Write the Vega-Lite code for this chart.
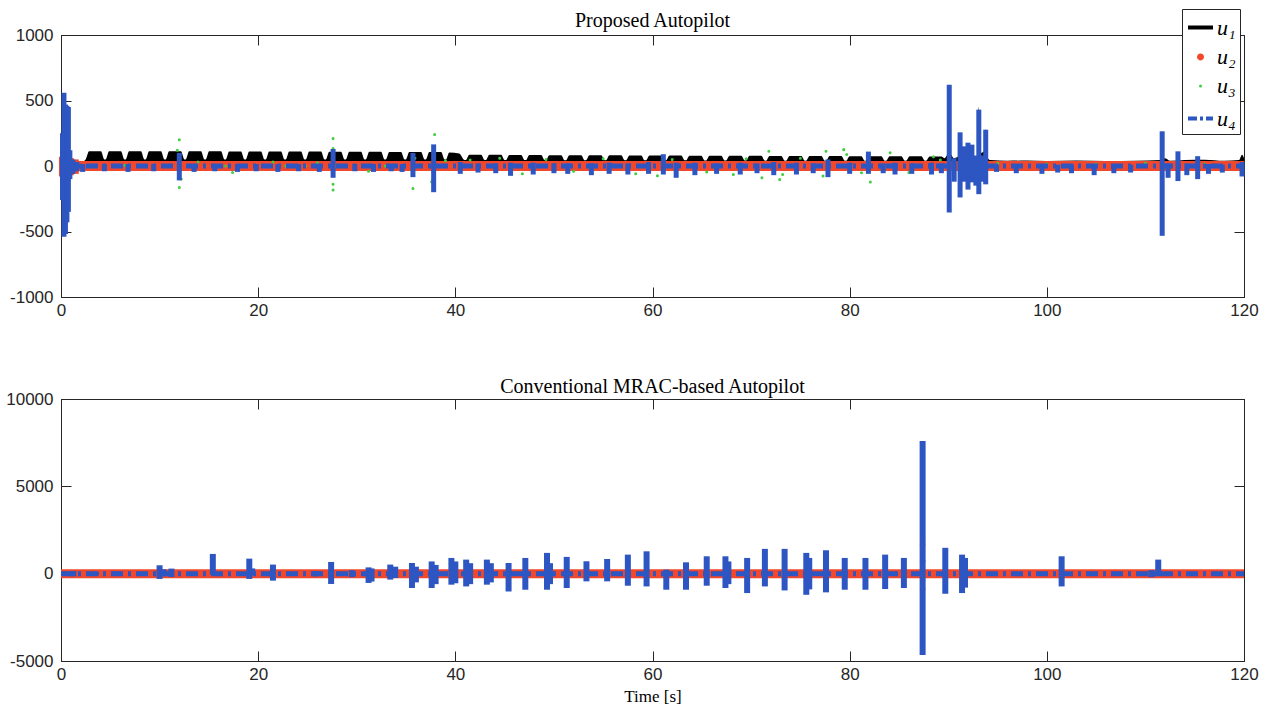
{
"$schema": "https://vega.github.io/schema/vega-lite/v6.json",
"background": "white",
"padding": {"left": 5, "top": 8, "right": 20, "bottom": 4},
"spacing": 57,
"config": {
  "view": {"stroke": "#262626", "strokeWidth": 1},
  "axis": {"grid": false, "domainColor": "#262626", "tickColor": "#262626", "tickSize": -10, "labelPadding": 17, "labelFlush": false, "labelFont": "Liberation Sans", "labelFontSize": 17, "labelColor": "#262626", "titleFont": "Liberation Serif", "titleFontSize": 17, "titleFontWeight": "normal", "titleColor": "#000000"},
  "title": {"font": "Liberation Serif", "fontSize": 20, "fontWeight": "normal", "color": "#000000", "frame": "group"}
},
"datasets": {
  "base": [{"t": 0, "v": 0}, {"t": 120, "v": 0}],
  "u1top": [
    {"t": 0, "hi": 30}, {"t": 0.05, "hi": 200}, {"t": 0.3, "hi": 180}, {"t": 0.6, "hi": 120}, {"t": 1.0, "hi": 60}, {"t": 1.5, "hi": 30}, {"t": 2.2, "hi": 35},
    {"t": 2.5, "hi": 50}, {"t": 2.85, "hi": 112}, {"t": 4.05, "hi": 112}, {"t": 4.4, "hi": 50},
    {"t": 4.53, "hi": 50}, {"t": 4.88, "hi": 112}, {"t": 6.08, "hi": 112}, {"t": 6.43, "hi": 50},
    {"t": 6.56, "hi": 50}, {"t": 6.91, "hi": 112}, {"t": 8.11, "hi": 112}, {"t": 8.46, "hi": 50},
    {"t": 8.59, "hi": 50}, {"t": 8.94, "hi": 112}, {"t": 10.14, "hi": 112}, {"t": 10.49, "hi": 50},
    {"t": 10.62, "hi": 50}, {"t": 10.97, "hi": 112}, {"t": 12.17, "hi": 112}, {"t": 12.52, "hi": 50},
    {"t": 12.65, "hi": 50}, {"t": 13.0, "hi": 112}, {"t": 14.2, "hi": 112}, {"t": 14.55, "hi": 50},
    {"t": 14.68, "hi": 50}, {"t": 15.03, "hi": 112}, {"t": 16.23, "hi": 112}, {"t": 16.58, "hi": 50},
    {"t": 16.71, "hi": 50}, {"t": 17.06, "hi": 110}, {"t": 18.26, "hi": 110}, {"t": 18.61, "hi": 50},
    {"t": 18.74, "hi": 50}, {"t": 19.09, "hi": 110}, {"t": 20.29, "hi": 110}, {"t": 20.64, "hi": 50},
    {"t": 20.77, "hi": 50}, {"t": 21.12, "hi": 110}, {"t": 22.32, "hi": 110}, {"t": 22.67, "hi": 50},
    {"t": 22.8, "hi": 50}, {"t": 23.15, "hi": 110}, {"t": 24.35, "hi": 110}, {"t": 24.7, "hi": 50},
    {"t": 24.83, "hi": 50}, {"t": 25.18, "hi": 110}, {"t": 26.38, "hi": 110}, {"t": 26.73, "hi": 50},
    {"t": 26.86, "hi": 50}, {"t": 27.21, "hi": 108}, {"t": 28.41, "hi": 108}, {"t": 28.76, "hi": 50},
    {"t": 28.89, "hi": 50}, {"t": 29.24, "hi": 108}, {"t": 30.44, "hi": 108}, {"t": 30.79, "hi": 50},
    {"t": 30.92, "hi": 50}, {"t": 31.27, "hi": 108}, {"t": 32.47, "hi": 108}, {"t": 32.82, "hi": 50},
    {"t": 32.95, "hi": 50}, {"t": 33.3, "hi": 106}, {"t": 34.5, "hi": 106}, {"t": 34.85, "hi": 50},
    {"t": 34.98, "hi": 50}, {"t": 35.33, "hi": 106}, {"t": 36.53, "hi": 106}, {"t": 36.88, "hi": 50},
    {"t": 37.01, "hi": 50}, {"t": 37.36, "hi": 106}, {"t": 38.56, "hi": 106}, {"t": 38.91, "hi": 50},
    {"t": 39.04, "hi": 50}, {"t": 39.39, "hi": 104}, {"t": 40.4, "hi": 95}, {"t": 40.94, "hi": 45},
    {"t": 41.07, "hi": 45}, {"t": 41.42, "hi": 85}, {"t": 42.62, "hi": 85}, {"t": 42.97, "hi": 45},
    {"t": 43.1, "hi": 45}, {"t": 43.45, "hi": 85}, {"t": 44.65, "hi": 85}, {"t": 45.0, "hi": 45},
    {"t": 45.13, "hi": 45}, {"t": 45.48, "hi": 84}, {"t": 46.68, "hi": 84}, {"t": 47.03, "hi": 45},
    {"t": 47.16, "hi": 45}, {"t": 47.51, "hi": 84}, {"t": 48.71, "hi": 84}, {"t": 49.06, "hi": 45},
    {"t": 49.19, "hi": 45}, {"t": 49.54, "hi": 83}, {"t": 50.74, "hi": 83}, {"t": 51.09, "hi": 44},
    {"t": 51.22, "hi": 44}, {"t": 51.57, "hi": 83}, {"t": 52.77, "hi": 83}, {"t": 53.12, "hi": 44},
    {"t": 53.25, "hi": 44}, {"t": 53.6, "hi": 82}, {"t": 54.8, "hi": 82}, {"t": 55.15, "hi": 44},
    {"t": 55.28, "hi": 44}, {"t": 55.63, "hi": 82}, {"t": 56.83, "hi": 82}, {"t": 57.18, "hi": 44},
    {"t": 57.31, "hi": 44}, {"t": 57.66, "hi": 81}, {"t": 58.86, "hi": 81}, {"t": 59.21, "hi": 43},
    {"t": 59.34, "hi": 43}, {"t": 59.69, "hi": 80}, {"t": 60.89, "hi": 80}, {"t": 61.24, "hi": 43},
    {"t": 61.37, "hi": 43}, {"t": 61.72, "hi": 80}, {"t": 62.92, "hi": 80}, {"t": 63.27, "hi": 43},
    {"t": 63.4, "hi": 43}, {"t": 63.75, "hi": 79}, {"t": 64.95, "hi": 79}, {"t": 65.3, "hi": 42},
    {"t": 65.43, "hi": 42}, {"t": 65.78, "hi": 79}, {"t": 66.98, "hi": 79}, {"t": 67.33, "hi": 42},
    {"t": 67.46, "hi": 42}, {"t": 67.81, "hi": 78}, {"t": 69.01, "hi": 78}, {"t": 69.36, "hi": 42},
    {"t": 69.49, "hi": 42}, {"t": 69.84, "hi": 78}, {"t": 71.04, "hi": 78}, {"t": 71.39, "hi": 41},
    {"t": 71.52, "hi": 41}, {"t": 71.87, "hi": 77}, {"t": 73.07, "hi": 77}, {"t": 73.42, "hi": 41},
    {"t": 73.55, "hi": 41}, {"t": 73.9, "hi": 77}, {"t": 75.1, "hi": 77}, {"t": 75.45, "hi": 41},
    {"t": 75.58, "hi": 41}, {"t": 75.93, "hi": 76}, {"t": 77.13, "hi": 76}, {"t": 77.48, "hi": 40},
    {"t": 77.61, "hi": 40}, {"t": 77.96, "hi": 76}, {"t": 79.16, "hi": 76}, {"t": 79.51, "hi": 40},
    {"t": 79.64, "hi": 40}, {"t": 79.99, "hi": 75}, {"t": 81.19, "hi": 75}, {"t": 81.54, "hi": 40},
    {"t": 81.67, "hi": 40}, {"t": 82.02, "hi": 75}, {"t": 83.22, "hi": 75}, {"t": 83.57, "hi": 40},
    {"t": 83.7, "hi": 40}, {"t": 84.05, "hi": 74}, {"t": 85.25, "hi": 74}, {"t": 85.6, "hi": 40},
    {"t": 85.73, "hi": 40}, {"t": 86.08, "hi": 74}, {"t": 87.28, "hi": 74}, {"t": 87.63, "hi": 40},
    {"t": 87.76, "hi": 40}, {"t": 88.11, "hi": 72}, {"t": 89.31, "hi": 72}, {"t": 89.6, "hi": 60},
    {"t": 90.1, "hi": 100}, {"t": 90.6, "hi": 60}, {"t": 91.2, "hi": 80}, {"t": 92.0, "hi": 120}, {"t": 92.4, "hi": 90}, {"t": 92.9, "hi": 70}, {"t": 93.1, "hi": 450}, {"t": 93.3, "hi": 100}, {"t": 93.7, "hi": 120}, {"t": 93.8, "hi": 285}, {"t": 94.0, "hi": 60},
    {"t": 94.3, "hi": 45}, {"t": 96, "hi": 40}, {"t": 98, "hi": 42}, {"t": 100, "hi": 38}, {"t": 103, "hi": 42}, {"t": 106, "hi": 38}, {"t": 109, "hi": 40}, {"t": 111.5, "hi": 45}, {"t": 112, "hi": 60}, {"t": 112.5, "hi": 40}, {"t": 114, "hi": 45}, {"t": 116, "hi": 48}, {"t": 118, "hi": 40}, {"t": 119.5, "hi": 45}, {"t": 119.8, "hi": 85}, {"t": 120, "hi": 60}
  ],
  "u2blob": [
    {"t": 0.1, "lo": -80, "hi": 70}, {"t": 0.5, "lo": -80, "hi": 75}, {"t": 1.0, "lo": -70, "hi": 60}, {"t": 1.5, "lo": -60, "hi": 50}, {"t": 1.9, "lo": -40, "hi": 35}
  ],
  "u3top": [
    {"s": "u3", "t": 12.0, "v": 200}, {"s": "u3", "t": 12.0, "v": -165}, {"s": "u3", "t": 11.8, "v": 120}, {"s": "u3", "t": 12.2, "v": -100},
    {"s": "u3", "t": 27.6, "v": 209}, {"s": "u3", "t": 27.6, "v": 133}, {"s": "u3", "t": 27.6, "v": -140}, {"s": "u3", "t": 27.6, "v": -184},
    {"s": "u3", "t": 35.7, "v": -171}, {"s": "u3", "t": 35.9, "v": 60}, {"s": "u3", "t": 37.9, "v": 240}, {"s": "u3", "t": 37.6, "v": -120},
    {"s": "u3", "t": 13.9, "v": 30}, {"s": "u3", "t": 17.4, "v": -50}, {"s": "u3", "t": 21.5, "v": 30}, {"s": "u3", "t": 26.0, "v": 25}, {"s": "u3", "t": 31.2, "v": -40}, {"s": "u3", "t": 39.0, "v": 40},
    {"s": "u3", "t": 41.5, "v": 45}, {"s": "u3", "t": 44.5, "v": 60}, {"s": "u3", "t": 46.8, "v": -60}, {"s": "u3", "t": 49.2, "v": 50}, {"s": "u3", "t": 52.0, "v": -40}, {"s": "u3", "t": 55.0, "v": 55},
    {"s": "u3", "t": 58.3, "v": -60}, {"s": "u3", "t": 60.5, "v": -75}, {"s": "u3", "t": 62.0, "v": 50}, {"s": "u3", "t": 65.5, "v": -45}, {"s": "u3", "t": 68.2, "v": -65}, {"s": "u3", "t": 69.5, "v": 55},
    {"s": "u3", "t": 71.1, "v": -90}, {"s": "u3", "t": 71.8, "v": 112}, {"s": "u3", "t": 72.9, "v": -103}, {"s": "u3", "t": 73.2, "v": -65}, {"s": "u3", "t": 75.0, "v": 60}, {"s": "u3", "t": 77.3, "v": -77},
    {"s": "u3", "t": 77.6, "v": 112}, {"s": "u3", "t": 79.4, "v": 125}, {"s": "u3", "t": 79.7, "v": 87}, {"s": "u3", "t": 81.2, "v": -52}, {"s": "u3", "t": 82.1, "v": -123}, {"s": "u3", "t": 84.1, "v": 102},
    {"s": "u3", "t": 86.0, "v": -50}, {"s": "u3", "t": 88.5, "v": 70}, {"s": "u3", "t": 89.2, "v": 45}, {"s": "u3", "t": 93.8, "v": -120}, {"s": "u3", "t": 95.0, "v": 20}, {"s": "u3", "t": 100, "v": 15},
    {"s": "u3", "t": 105, "v": 15}, {"s": "u3", "t": 110, "v": 20}, {"s": "u3", "t": 116, "v": 15},
    {"s": "u3", "t": 2.0, "v": 0}, {"s": "u3", "t": 4.5, "v": 0}, {"s": "u3", "t": 6.5, "v": 5}, {"s": "u3", "t": 8.6, "v": 0}, {"s": "u3", "t": 10.6, "v": 0}, {"s": "u3", "t": 14.6, "v": 0}, {"s": "u3", "t": 16.7, "v": 0},
    {"s": "u3", "t": 18.7, "v": 0}, {"s": "u3", "t": 20.7, "v": 0}, {"s": "u3", "t": 22.8, "v": 0}, {"s": "u3", "t": 24.8, "v": 0}, {"s": "u3", "t": 28.8, "v": 0}, {"s": "u3", "t": 30.9, "v": 0}, {"s": "u3", "t": 32.9, "v": 0}
  ],
  "u4top": [
    {"t": 0.15, "lo": -260, "hi": 250}, {"t": 0.3, "lo": -540, "hi": 560}, {"t": 0.45, "lo": -520, "hi": 470}, {"t": 0.6, "lo": -430, "hi": 460}, {"t": 0.75, "lo": -350, "hi": 450}, {"t": 0.9, "lo": -100, "hi": 120}, {"t": 1.2, "lo": -60, "hi": 50}, {"t": 1.6, "lo": -40, "hi": 30},
    {"t": 2.2, "lo": -45, "hi": 15}, {"t": 4.4, "lo": -40, "hi": 15}, {"t": 6.8, "lo": -45, "hi": 15}, {"t": 9.4, "lo": -40, "hi": 15}, {"t": 13.5, "lo": -45, "hi": 15},
    {"t": 15.6, "lo": -40, "hi": 15}, {"t": 17.9, "lo": -45, "hi": 15}, {"t": 19.8, "lo": -40, "hi": 15}, {"t": 22.0, "lo": -45, "hi": 15}, {"t": 24.1, "lo": -40, "hi": 15},
    {"t": 26.2, "lo": -45, "hi": 15}, {"t": 29.8, "lo": -40, "hi": 15}, {"t": 31.7, "lo": -45, "hi": 15}, {"t": 33.5, "lo": -40, "hi": 15}, {"t": 34.6, "lo": -45, "hi": 15},
    {"t": 12.0, "lo": -110, "hi": 100}, {"t": 27.6, "lo": -90, "hi": 130}, {"t": 35.7, "lo": -85, "hi": 100}, {"t": 37.8, "lo": -200, "hi": 165},
    {"t": 40.5, "lo": -60, "hi": 30}, {"t": 42.3, "lo": -50, "hi": 20}, {"t": 44.1, "lo": -55, "hi": 20}, {"t": 45.6, "lo": -75, "hi": 25}, {"t": 47.9, "lo": -65, "hi": 25},
    {"t": 50.0, "lo": -55, "hi": 20}, {"t": 51.4, "lo": -60, "hi": 20}, {"t": 53.8, "lo": -70, "hi": 20}, {"t": 55.6, "lo": -60, "hi": 25}, {"t": 57.5, "lo": -65, "hi": 20},
    {"t": 59.6, "lo": -60, "hi": 30}, {"t": 61.1, "lo": -65, "hi": 90}, {"t": 62.4, "lo": -90, "hi": 25}, {"t": 64.3, "lo": -70, "hi": 25}, {"t": 66.5, "lo": -60, "hi": 20},
    {"t": 68.9, "lo": -65, "hi": 25}, {"t": 70.6, "lo": -55, "hi": 20}, {"t": 72.3, "lo": -70, "hi": 30}, {"t": 74.6, "lo": -65, "hi": 25}, {"t": 76.3, "lo": -55, "hi": 20},
    {"t": 77.8, "lo": -85, "hi": 50}, {"t": 80.0, "lo": -60, "hi": 25}, {"t": 81.9, "lo": -60, "hi": 110}, {"t": 83.4, "lo": -55, "hi": 20}, {"t": 84.6, "lo": -65, "hi": 25},
    {"t": 86.3, "lo": -60, "hi": 20}, {"t": 88.3, "lo": -65, "hi": 25}, {"t": 89.3, "lo": -55, "hi": 20},
    {"t": 90.1, "lo": -355, "hi": 620}, {"t": 90.6, "lo": -120, "hi": 60}, {"t": 91.2, "lo": -240, "hi": 257}, {"t": 91.6, "lo": -120, "hi": 150}, {"t": 92.0, "lo": -180, "hi": 178},
    {"t": 92.4, "lo": -125, "hi": 163}, {"t": 92.8, "lo": -150, "hi": 80}, {"t": 93.1, "lo": -215, "hi": 430}, {"t": 93.5, "lo": -120, "hi": 80}, {"t": 93.8, "lo": -140, "hi": 277},
    {"t": 94.9, "lo": -45, "hi": 10}, {"t": 96.9, "lo": -55, "hi": 10}, {"t": 99.5, "lo": -60, "hi": 10}, {"t": 101.1, "lo": -50, "hi": 10}, {"t": 102.5, "lo": -55, "hi": 10},
    {"t": 104.8, "lo": -70, "hi": 10}, {"t": 106.8, "lo": -55, "hi": 10}, {"t": 108.5, "lo": -50, "hi": 10}, {"t": 111.7, "lo": -533, "hi": 265}, {"t": 112.3, "lo": -90, "hi": 20},
    {"t": 113.3, "lo": -115, "hi": 112}, {"t": 114.2, "lo": -70, "hi": 20}, {"t": 115.3, "lo": -100, "hi": 75}, {"t": 116.4, "lo": -60, "hi": 15}, {"t": 117.8, "lo": -50, "hi": 10}, {"t": 119.8, "lo": -80, "hi": 30}
  ],
  "u4bot": [
    {"t": 0.3, "lo": -120, "hi": 120}, {"t": 1.25, "lo": -150, "hi": 150}, {"t": 3.55, "lo": -100, "hi": 100}, {"t": 5.48, "lo": -120, "hi": 120}, {"t": 8.0, "lo": -80, "hi": 80},
    {"t": 10.0, "lo": -300, "hi": 480}, {"t": 10.4, "lo": -150, "hi": 250}, {"t": 11.2, "lo": -190, "hi": 290}, {"t": 15.4, "lo": -60, "hi": 1130}, {"t": 19.1, "lo": -300, "hi": 860},
    {"t": 19.4, "lo": -100, "hi": 300}, {"t": 21.5, "lo": -400, "hi": 520}, {"t": 25.8, "lo": -150, "hi": 150}, {"t": 27.4, "lo": -590, "hi": 670}, {"t": 29.5, "lo": -200, "hi": 200},
    {"t": 31.2, "lo": -530, "hi": 360}, {"t": 31.5, "lo": -450, "hi": 300}, {"t": 33.4, "lo": -340, "hi": 520}, {"t": 33.9, "lo": -250, "hi": 400}, {"t": 35.6, "lo": -820, "hi": 610},
    {"t": 36.0, "lo": -500, "hi": 400}, {"t": 37.6, "lo": -820, "hi": 700}, {"t": 38.0, "lo": -600, "hi": 500}, {"t": 39.6, "lo": -630, "hi": 900}, {"t": 40.0, "lo": -550, "hi": 700},
    {"t": 41.1, "lo": -730, "hi": 805}, {"t": 41.5, "lo": -600, "hi": 600}, {"t": 43.2, "lo": -630, "hi": 805}, {"t": 43.6, "lo": -500, "hi": 600}, {"t": 45.4, "lo": -1020, "hi": 610},
    {"t": 47.1, "lo": -920, "hi": 900}, {"t": 49.3, "lo": -920, "hi": 1190}, {"t": 49.6, "lo": -600, "hi": 600}, {"t": 51.3, "lo": -820, "hi": 960}, {"t": 53.3, "lo": -440, "hi": 710},
    {"t": 55.4, "lo": -440, "hi": 840}, {"t": 57.5, "lo": -690, "hi": 1090}, {"t": 59.4, "lo": -730, "hi": 1280}, {"t": 61.4, "lo": -920, "hi": 230}, {"t": 63.4, "lo": -920, "hi": 650},
    {"t": 65.5, "lo": -690, "hi": 995}, {"t": 67.4, "lo": -820, "hi": 995}, {"t": 67.7, "lo": -600, "hi": 700}, {"t": 69.6, "lo": -1110, "hi": 900}, {"t": 71.4, "lo": -730, "hi": 1420},
    {"t": 73.4, "lo": -960, "hi": 1420}, {"t": 75.6, "lo": -1210, "hi": 1190}, {"t": 75.9, "lo": -900, "hi": 900}, {"t": 77.6, "lo": -1070, "hi": 1340}, {"t": 79.5, "lo": -920, "hi": 900},
    {"t": 81.6, "lo": -920, "hi": 900}, {"t": 83.6, "lo": -880, "hi": 1090}, {"t": 85.5, "lo": -820, "hi": 900}, {"t": 87.4, "lo": -4650, "hi": 7600}, {"t": 89.7, "lo": -1150, "hi": 1480},
    {"t": 91.4, "lo": -1110, "hi": 1090}, {"t": 91.7, "lo": -800, "hi": 900}, {"t": 101.5, "lo": -730, "hi": 995}, {"t": 110.6, "lo": -200, "hi": 200}, {"t": 111.3, "lo": -150, "hi": 805}
  ],
  "u2bot": [{"t": 87.4, "v": 1670}, {"t": 87.4, "v": 710}, {"t": 87.4, "v": -345}, {"t": 87.4, "v": -880}]
},
"vconcat": [
  {
    "width": 1183, "height": 262,
    "title": {"text": "Proposed Autopilot", "offset": -5},
    "resolve": {"axis": {"x": "independent", "y": "independent"}},
    "layer": [
      {
        "data": {"name": "u1top"},
        "mark": {"type": "area", "opacity": 1, "interpolate": "monotone", "color": "#000000"},
        "encoding": {
          "x": {"field": "t", "type": "quantitative", "scale": {"domain": [0, 120], "nice": false}, "axis": {"values": [0, 20, 40, 60, 80, 100, 120], "title": null, "labelPadding": 15}},
          "y": {"field": "hi", "type": "quantitative", "scale": {"domain": [-1000, 1000], "nice": false}, "axis": {"values": [-1000, -500, 0, 500, 1000], "labelExpr": "'' + datum.value", "title": null, "labelPadding": 18}},
          "y2": {"datum": 0}
        }
      },
      {
        "data": {"name": "base"},
        "mark": {"type": "line", "strokeWidth": 10, "color": "#f2472a"},
        "encoding": {
          "x": {"field": "t", "type": "quantitative", "axis": {"orient": "top", "labels": false, "values": [0, 20, 40, 60, 80, 100, 120], "title": null}},
          "y": {"field": "v", "type": "quantitative", "axis": {"orient": "right", "labels": false, "values": [-1000, -500, 0, 500, 1000], "title": null}}
        }
      },
      {
        "data": {"name": "u2blob"},
        "mark": {"type": "rule", "strokeWidth": 6, "color": "#f2472a"},
        "encoding": {
          "x": {"field": "t", "type": "quantitative", "axis": null},
          "y": {"field": "lo", "type": "quantitative", "axis": null},
          "y2": {"field": "hi"}
        }
      },
      {
        "data": {"name": "u3top"},
        "mark": {"type": "point", "filled": false, "opacity": 1},
        "encoding": {
          "x": {"field": "t", "type": "quantitative", "axis": null},
          "y": {"field": "v", "type": "quantitative", "axis": null},
          "color": {"field": "s", "type": "nominal",
            "scale": {"domain": ["u1", "u2", "u3", "u4"], "range": ["#000000", "#f2472a", "#3dcf3d", "#2d56c2"]},
            "legend": {
              "orient": "none", "legendX": 1121, "legendY": -26, "direction": "vertical", "title": null,
              "strokeColor": "#262626", "fillColor": "white", "padding": 4, "rowPadding": 7, "labelOffset": 2,
              "labelFont": "Liberation Serif", "labelFontStyle": "italic", "labelFontSize": 22, "labelColor": "#000000",
              "labelExpr": "{'u1':'u₁','u2':'u₂','u3':'u₃','u4':'u₄'}[datum.value]"
            }
          },
          "shape": {"field": "s", "type": "nominal", "scale": {"domain": ["u1", "u2", "u3", "u4"], "range": ["stroke", "circle", "circle", "stroke"]}, "legend": {"title": null}},
          "size": {"field": "s", "type": "nominal", "scale": {"type": "ordinal", "domain": ["u1", "u2", "u3", "u4"], "range": [625, 12, 2, 625]}, "legend": {"title": null}},
          "strokeWidth": {"field": "s", "type": "nominal", "scale": {"type": "ordinal", "domain": ["u1", "u2", "u3", "u4"], "range": [4, 3.5, 1.6, 4]}, "legend": {"title": null}},
          "strokeDash": {"field": "s", "type": "nominal", "scale": {"domain": ["u1", "u2", "u3", "u4"], "range": [[1, 0], [1, 0], [1, 0], [9, 3, 3, 3]]}, "legend": {"title": null}}
        }
      },
      {
        "data": {"name": "u4top"},
        "mark": {"type": "rule", "strokeWidth": 5, "color": "#2d56c2"},
        "encoding": {
          "x": {"field": "t", "type": "quantitative", "axis": null},
          "y": {"field": "lo", "type": "quantitative", "axis": null},
          "y2": {"field": "hi"}
        }
      },
      {
        "data": {"name": "base"},
        "mark": {"type": "line", "strokeWidth": 5, "strokeDash": [12, 5, 3, 5], "color": "#2d56c2"},
        "encoding": {
          "x": {"field": "t", "type": "quantitative", "axis": null},
          "y": {"field": "v", "type": "quantitative", "axis": null}
        }
      }
    ]
  },
  {
    "width": 1183, "height": 262,
    "title": {"text": "Conventional MRAC-based Autopilot", "offset": -7},
    "resolve": {"axis": {"x": "independent", "y": "independent"}},
    "layer": [
      {
        "data": {"name": "base"},
        "mark": {"type": "line", "strokeWidth": 9, "color": "#f2472a"},
        "encoding": {
          "x": {"field": "t", "type": "quantitative", "scale": {"domain": [0, 120], "nice": false}, "axis": {"values": [0, 20, 40, 60, 80, 100, 120], "title": "Time [s]", "titlePadding": 6, "labelPadding": 15}},
          "y": {"field": "v", "type": "quantitative", "scale": {"domain": [-5000, 10000], "nice": false}, "axis": {"values": [-5000, 0, 5000, 10000], "labelExpr": "'' + datum.value", "title": null, "labelPadding": 18}}
        }
      },
      {
        "data": {"name": "u2bot"},
        "mark": {"type": "point", "filled": true, "size": 30, "color": "#f2472a", "opacity": 1},
        "encoding": {
          "x": {"field": "t", "type": "quantitative", "axis": {"orient": "top", "labels": false, "values": [0, 20, 40, 60, 80, 100, 120], "title": null}},
          "y": {"field": "v", "type": "quantitative", "axis": {"orient": "right", "labels": false, "values": [-5000, 0, 5000, 10000], "title": null}}
        }
      },
      {
        "data": {"name": "u4bot"},
        "mark": {"type": "rule", "strokeWidth": 6, "color": "#2d56c2"},
        "encoding": {
          "x": {"field": "t", "type": "quantitative", "axis": null},
          "y": {"field": "lo", "type": "quantitative", "axis": null},
          "y2": {"field": "hi"}
        }
      },
      {
        "data": {"name": "base"},
        "mark": {"type": "line", "strokeWidth": 5, "strokeDash": [12, 5, 3, 5], "color": "#2d56c2"},
        "encoding": {
          "x": {"field": "t", "type": "quantitative", "axis": null},
          "y": {"field": "v", "type": "quantitative", "axis": null}
        }
      }
    ]
  }
]
}
